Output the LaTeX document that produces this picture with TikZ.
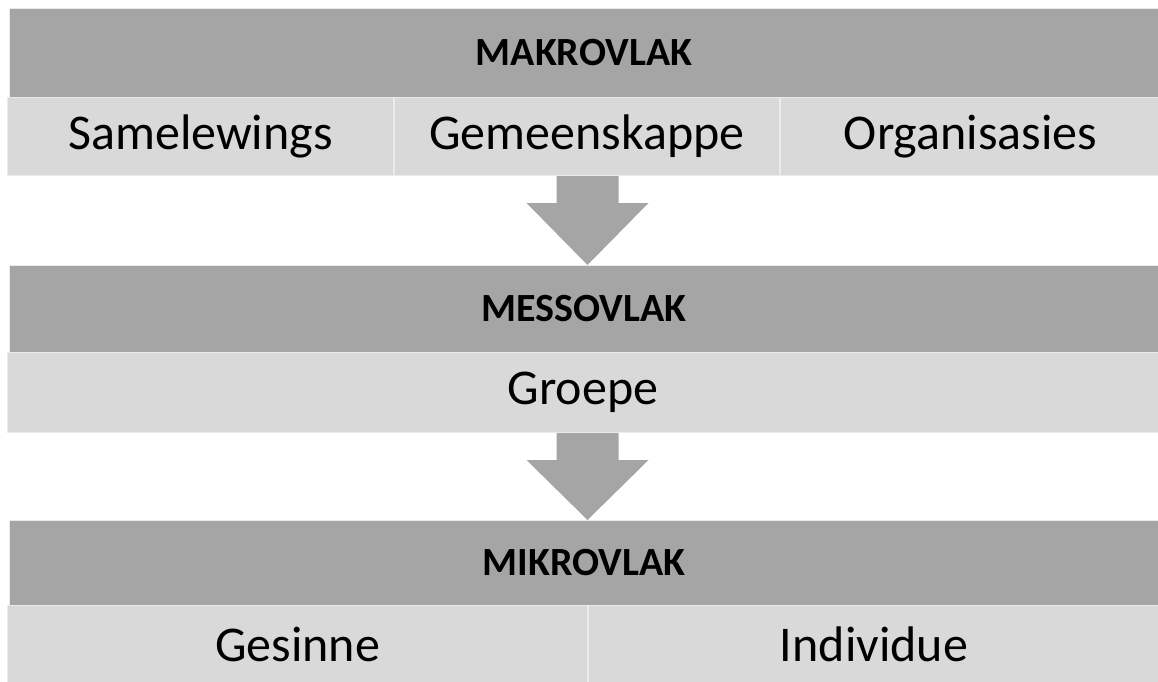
\documentclass[tikz,border=0pt]{standalone}
\usepackage{fontspec}
\setmainfont{Carlito}
\usetikzlibrary{positioning}
\usetikzlibrary{calc}

\definecolor{bardark}{HTML}{A5A5A5}
\definecolor{barlight}{HTML}{D9D9D9}
\definecolor{cellline}{HTML}{EBEBEB}

\tikzset{
  levelbar/.style={fill=bardark, draw=cellline, line width=0.75pt, inner sep=0pt,
    anchor=north west, minimum width=861.75pt, minimum height=#1,
    font=\fontsize{30}{36}\selectfont\bfseries},
  levelcell/.style={fill=barlight, draw=cellline, line width=0.75pt, inner sep=0pt,
    anchor=north west, minimum height=#1,
    font=\fontsize{37.5}{45}\selectfont},
  blockarrow/.style={fill=bardark, draw=none}
}

\begin{document}
\begin{tikzpicture}[x=0.75pt, y=-0.75pt]
    \useasboundingbox (0,0) rectangle (1158,682);

    % makrovlak
    \node [levelbar=66.75pt] (makro) at (9,8) {MAKROVLAK};
    \node [levelcell=58.5pt, minimum width=289.5pt] (samel) at (7,97) {Samelewings};
    \node [levelcell=58.5pt, minimum width=288.75pt, right=0pt of samel] (gemeen) {Gemeenskappe};
    \node [levelcell=58.5pt, minimum width=285pt, right=0pt of gemeen] (organ) {Organisasies};

    % messovlak
    \node [levelbar=65.25pt] (messo) at (9,265) {MESSOVLAK};
    \node [levelcell=60pt, minimum width=863.25pt] (groepe) at (7,352) {Groepe};

    % mikrovlak
    \node [levelbar=63.75pt] (mikro) at (9,520) {MIKROVLAK};
    \node [levelcell=57.75pt, minimum width=435pt] (gesin) at (7,605) {Gesinne};
    \node [levelcell=57.75pt, minimum width=428.25pt, right=0pt of gesin] (indiv) {Individue};

    % arrows between levels
    \foreach \src/\dst in {samel/messo, groepe/mikro} {
      \coordinate (tip) at ($(\dst.north)+(3.5,0)$);
      \coordinate (base) at (tip |- \src.south);
      \fill [blockarrow] ($(base)+(-31,0)$) -- ($(base)+(31,0)$)
        -- ($(base)+(31,27)$) -- ($(base)+(61,27)$) -- (tip)
        -- ($(base)+(-61,27)$) -- ($(base)+(-31,27)$) -- cycle;
    }
\end{tikzpicture}
\end{document}
